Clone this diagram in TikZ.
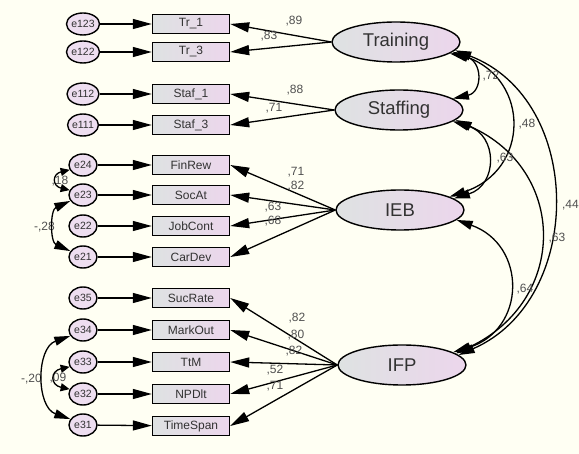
\documentclass[tikz,border=0pt]{standalone}
\usepackage{fontspec}
\setmainfont{Liberation Sans}
\usetikzlibrary{shapes.geometric,arrows.meta}
\definecolor{bg}{RGB}{255,255,243}
\definecolor{pinkf}{RGB}{236,214,236}
\definecolor{grayf}{RGB}{222,226,226}
\definecolor{errf}{RGB}{238,222,240}
\definecolor{lbl}{RGB}{80,80,80}
\definecolor{txt}{RGB}{50,50,50}
\begin{document}
\begin{tikzpicture}[x=1pt,y=-1pt,
 err/.style={ellipse,draw,line width=1.4pt,fill=errf,minimum width=28pt,minimum height=22pt,inner sep=0pt,text=txt,font=\fontsize{10.5}{10.5}\selectfont},
 obs/.style={rectangle,draw,line width=1.4pt,left color=grayf,right color=pinkf,minimum width=77pt,minimum height=19pt,inner sep=0pt,text=txt,font=\fontsize{12}{12}\selectfont},
 lat/.style={ellipse,draw,line width=1.4pt,left color=grayf,right color=pinkf,minimum width=128pt,minimum height=40pt,inner sep=0pt,text=txt,font=\fontsize{18.5}{18.5}\selectfont},
 arr/.style={line width=1.3pt,-{Triangle[length=19pt,width=10pt]}},
 cov/.style={line width=1.3pt,{Triangle[length=16pt,width=9pt]}-{Triangle[length=16pt,width=9pt]}},
 scov/.style={line width=1.3pt,{Triangle[length=9pt,width=8pt]}-{Triangle[length=9pt,width=8pt]}},
 lab/.style={text=lbl,font=\fontsize{12}{12}\selectfont,inner sep=0pt}
]
\useasboundingbox (0,0) rectangle (579,454);
\fill[bg] (0,0) rectangle (579,454);

% error terms
\foreach \n/\y in {e123/24,e122/52,e112/94,e111/125,e24/165,e23/195,e22/226,e21/257,e35/298,e34/330,e33/362,e32/394,e31/425}
  \node[err] (\n) at (83,\y) {\n};

% observed variables
\node[obs] (Tr1) at (191,24) {Tr\_1};
\node[obs] (Tr3) at (191,52) {Tr\_3};
\node[obs] (St1) at (191,94) {Staf\_1};
\node[obs] (St3) at (191,125) {Staf\_3};
\node[obs] (FinRew) at (191,165) {FinRew};
\node[obs] (SocAt) at (191,195) {SocAt};
\node[obs] (JobCont) at (191,226) {JobCont};
\node[obs] (CarDev) at (191,257) {CarDev};
\node[obs] (SucRate) at (191,298) {SucRate};
\node[obs] (MarkOut) at (191,330) {MarkOut};
\node[obs] (TtM) at (191,362) {TtM};
\node[obs] (NPDlt) at (191,394) {NPDlt};
\node[obs] (TimeSpan) at (191,426) {TimeSpan};

% latent variables
\node[lat] (T) at (396,42) {Training};
\node[lat] (S) at (399,110) {Staffing};
\node[lat] (IEB) at (400,210) {IEB};
\node[lat] (IFP) at (402,365) {IFP};

% error arrows
\foreach \e/\o in {e123/Tr1,e122/Tr3,e112/St1,e111/St3,e24/FinRew,e23/SocAt,e22/JobCont,e21/CarDev,e35/SucRate,e34/MarkOut,e33/TtM,e32/NPDlt,e31/TimeSpan}
  \draw[arr] (\e) -- (\o);

% loadings
\foreach \o in {Tr1,Tr3} \draw[arr] (T.west) -- (\o.east);
\foreach \o in {St1,St3} \draw[arr] (S.west) -- (\o.east);
\foreach \o in {FinRew,SocAt,JobCont,CarDev} \draw[arr] (IEB.west) -- (\o.east);
\foreach \o in {SucRate,MarkOut,TtM,NPDlt,TimeSpan} \draw[arr] (IFP.west) -- (\o.east);

% loading labels
\node[lab] (l1) at (294,21) {,89};
\node[lab] (l2) at (269,36) {,83};
\node[lab] (l3) at (295,90) {,88};
\node[lab] (l4) at (274,108) {,71};
\node[lab] (l5) at (296,172) {,71};
\node[lab] (l6) at (296,186) {,82};
\node[lab] (l7) at (273,207) {,63};
\node[lab] (l8) at (273,221) {,68};
\node[lab] (l9) at (297,318) {,82};
\node[lab] (l10) at (296,335) {,80};
\node[lab] (l11) at (294,351) {,82};
\node[lab] (l12) at (275,370) {,52};
\node[lab] (l13) at (275,386) {,71};

% latent covariances
\draw[cov] (T.-12) .. controls (483,60) and (483,92) .. (S.12);
\draw[cov] (T.-10) .. controls (530,80) and (530,170) .. (IEB.15);
\draw[cov] (T.-8) .. controls (585,100) and (585,300) .. (IFP.10);
\draw[cov] (S.-12) .. controls (498,135) and (498,185) .. (IEB.12);
\draw[cov] (S.-10) .. controls (568,170) and (568,300) .. (IFP.12);
\draw[cov] (IEB.-10) .. controls (527,245) and (527,330) .. (IFP.14);

\node[lab] (c1) at (491,76) {,72};
\node[lab] (c2) at (527,124) {,48};
\node[lab,anchor=east] (c3) at (579,205) {,44};
\node[lab] (c4) at (505,158) {,63};
\node[lab] (c5) at (557,238) {,63};
\node[lab] (c6) at (525,289) {,64};

% error covariances
\node[lab,anchor=east] (c7) at (55,227) {-,28};
\node[lab,anchor=east] (c8) at (42,379) {-,20};
\node[lab] (c9) at (60,181) {,18};
\node[lab] (c10) at (58,378) {,09};
\draw[scov] (e24.200) .. controls (52,174) and (52,186) .. (e23.160);
\draw[cov] (e23.205) .. controls (50,210) and (50,242) .. (e21.155);
\draw[scov] (e33.200) .. controls (50,371) and (50,385) .. (e32.160);
\draw[cov] (e34.205) .. controls (36,348) and (36,407) .. (e31.155);
\end{tikzpicture}
\end{document}
